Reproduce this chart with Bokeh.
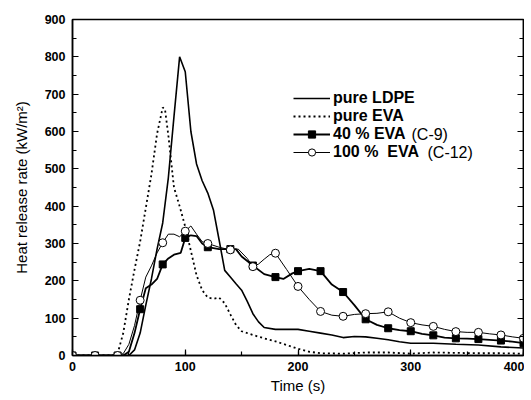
from bokeh.plotting import figure
from bokeh.models import (Range1d, LinearAxis, SingleIntervalTicker, Legend, LegendItem, Label,
                          CustomJSTickFormatter)
from bokeh.embed import file_html
from bokeh.resources import INLINE

# ---- data ----
ldpe_t = [0, 20, 40, 50, 55, 60, 65, 70, 75, 80, 85, 90, 95, 100, 105, 110, 115, 120, 125, 130,
          135, 140, 145, 150, 155, 160, 165, 170, 180, 190, 200, 210, 220, 230, 240, 250, 260,
          270, 280, 290, 300, 320, 340, 360, 380, 400]
ldpe_v = [0, 0, 0, 0, 15, 60, 135, 205, 285, 355, 476, 640, 800, 760, 600, 513, 468, 435, 390, 310,
          228, 210, 192, 175, 145, 112, 90, 75, 70, 70, 70, 65, 60, 55, 48, 51, 50,
          46, 42, 37, 33, 33, 30, 28, 23, 20]

eva_t = [0, 20, 35, 40, 45, 50, 55, 60, 65, 70, 75, 80, 82, 85, 90, 95, 100, 105, 110, 115, 120,
         125, 130, 135, 140, 145, 150, 160, 170, 180, 190, 200, 210, 220, 240, 260, 280, 300,
         320, 340, 360, 380, 400]
eva_v = [0, 0, 0, 5, 60, 150, 230, 305, 395, 485, 594, 664, 660, 590, 450, 400, 345, 280, 215, 175, 155,
         152, 155, 140, 110, 82, 65, 55, 46, 38, 28, 18, 10, 6, 5, 8, 8, 5,
         8, 7, 6, 6, 5]

c9_t = [0, 20, 40, 45, 50, 55, 60, 65, 70, 75, 80, 85, 90, 96, 100, 105, 110, 115, 120, 130, 140,
        145, 150, 160, 170, 180, 187, 195, 200, 210, 220, 230, 240, 250, 260, 270, 280, 290,
        300, 310, 320, 330, 340, 350, 360, 370, 380, 390, 400]
c9_v = [0, 0, 0, 0, 10, 60, 124, 180, 190, 205, 244, 260, 270, 275, 315, 322, 320, 300, 290, 285, 285,
        285, 265, 241, 218, 210, 205, 220, 226, 232, 226, 190, 170, 135, 97, 82, 73, 68,
        65, 58, 54, 48, 46, 45, 44, 42, 40, 37, 33]

c12_t = [0, 20, 40, 45, 50, 55, 60, 65, 70, 75, 80, 85, 90, 95, 100, 105, 110, 115, 120, 130, 140,
         147, 155, 160, 165, 170, 175, 180, 190, 200, 210, 220, 230, 240, 250, 260, 270, 280,
         290, 300, 310, 320, 330, 340, 350, 360, 370, 380, 390, 400]
c12_v = [0, 0, 0, 5, 30, 80, 148, 210, 240, 275, 302, 325, 325, 318, 333, 347, 325, 305, 300, 290, 283,
         285, 260, 238, 245, 258, 270, 274, 230, 185, 150, 118, 108, 105, 110, 112, 113, 117,
         100, 88, 82, 78, 70, 64, 62, 62, 58, 55, 50, 46]

x_ticks = [0, 100, 200, 300, 400]
y_ticks = [0, 100, 200, 300, 400, 500, 600, 700, 800, 900]

# markers every 20 s
c9_mt = [t for t in c9_t if t % 20 == 0]
c9_mv = [v for t, v in zip(c9_t, c9_v) if t % 20 == 0]
c12_mt = [t for t in c12_t if t % 20 == 0]
c12_mv = [v for t, v in zip(c12_t, c12_v) if t % 20 == 0]

FONT = "Liberation Sans"

p = figure(width=524, height=396, output_backend="svg", toolbar_location=None,
           x_range=Range1d(x_ticks[0], x_ticks[-1]), y_range=Range1d(y_ticks[0], y_ticks[-1]),
           min_border_left=72, min_border_top=19, min_border_right=1)
p.grid.visible = False
p.outline_line_color = "black"
p.outline_line_width = 1.5
p.background_fill_color = "white"
p.border_fill_color = "white"

def style_axis(ax):
    ax.axis_line_color = "black"
    ax.axis_line_width = 1.5
    ax.major_tick_in = 6
    ax.major_tick_out = 0
    ax.minor_tick_in = 4
    ax.minor_tick_out = 0
    ax.major_tick_line_color = "black"
    ax.minor_tick_line_color = "black"
    ax.major_tick_line_width = 1.2
    ax.minor_tick_line_width = 1.2
    ax.major_label_text_font = FONT
    ax.major_label_text_font_style = "bold"
    ax.major_label_text_font_size = "12.5px"
    ax.major_label_text_color = "black"
    ax.axis_label_text_font = FONT
    ax.axis_label_text_font_style = "normal"
    ax.axis_label_text_font_size = "15px"
    ax.axis_label_text_color = "black"

xa = p.xaxis[0]
ya = p.yaxis[0]
xa.ticker = SingleIntervalTicker(interval=100, num_minor_ticks=2)
ya.ticker = SingleIntervalTicker(interval=100, num_minor_ticks=2)
style_axis(xa)
style_axis(ya)
xa.axis_label = "Time (s)"
ya.axis_label = "Heat release rate (kW/m²)"
xa.major_label_standoff = 6
xa.axis_label_standoff = 3
ya.major_label_standoff = 7
ya.axis_label_standoff = 12

ra = LinearAxis(ticker=SingleIntervalTicker(interval=100, num_minor_ticks=2),
                formatter=CustomJSTickFormatter(code="return ''"))
style_axis(ra)
ra.major_label_standoff = 0
p.add_layout(ra, "right")

r_ldpe = p.line(ldpe_t, ldpe_v, line_color="black", line_width=1.6)
r_eva = p.line(eva_t, eva_v, line_color="black", line_width=1.8, line_dash="2 3")
r_c9 = p.line(c9_t, c9_v, line_color="black", line_width=1.8)
r_c9m = p.scatter(c9_mt, c9_mv, marker="square", size=7, fill_color="black", line_color="black")
r_c12 = p.line(c12_t, c12_v, line_color="black", line_width=1.0)
r_c12m = p.scatter(c12_mt, c12_mv, marker="circle", size=8, fill_color="white", line_color="black",
                   line_width=1.0)

legend = Legend(items=[
    LegendItem(label="pure LDPE", renderers=[r_ldpe]),
    LegendItem(label="pure EVA", renderers=[r_eva]),
    LegendItem(label="40 % EVA", renderers=[r_c9, r_c9m]),
    LegendItem(label="100 %  EVA", renderers=[r_c12, r_c12m]),
], location=(221, 194))
legend.label_text_font = FONT
legend.label_text_font_style = "bold"
legend.label_text_font_size = "16px"
legend.label_text_color = "black"
legend.glyph_width = 37
legend.glyph_height = 18
legend.label_height = 18
legend.label_standoff = 3
legend.spacing = 0
legend.padding = 0
legend.margin = 0
legend.border_line_alpha = 0
legend.background_fill_alpha = 0
p.add_layout(legend, "center")

for txt, x, y in [("(C-9)", 339, 221), ("(C-12)", 355, 203)]:
    p.add_layout(Label(x=x, y=y, x_units="screen", y_units="screen", text=txt,
                       text_font=FONT, text_font_size="16px", text_baseline="middle",
                       text_color="black"))

open("out.html", "w").write(file_html(p, INLINE))
